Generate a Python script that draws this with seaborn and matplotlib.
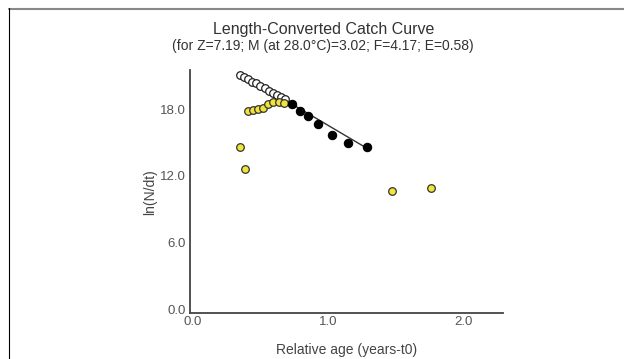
import matplotlib
matplotlib.use("Agg")
import matplotlib.pyplot as plt
import matplotlib.transforms as mtransforms
import seaborn as sns
import pandas as pd

# ochiq doiralar (hisoblangan nuqtalar)
open_x = [0.37, 0.40, 0.43, 0.46, 0.49, 0.52, 0.55, 0.58, 0.61, 0.64, 0.67, 0.70]
open_y = [21.45, 21.25, 21.05, 20.85, 20.7, 20.5, 20.3, 20.05, 19.85, 19.65, 19.45, 19.25]
# sariq nuqtalar (regressiyaga kirmagan)
yellow_x = [0.369, 0.406, 0.428, 0.465, 0.502, 0.539, 0.576, 0.613, 0.657, 0.694, 1.489, 1.776]
yellow_y = [14.94, 12.96, 18.25, 18.3, 18.39, 18.52, 18.84, 19.02, 19.06, 18.93, 11.0, 11.25]
# qora nuqtalar (regressiya uchun)
black_x = [0.753, 0.812, 0.871, 0.945, 1.048, 1.166, 1.306]
black_y = [18.84, 18.2, 17.76, 17.04, 16.05, 15.33, 14.97]
# regressiya chizig'i
line_x = [0.72, 1.29]
line_y = [19.07, 14.97]

sns.set_style("white")
plt.rcParams['font.family'] = ['Liberation Sans', 'DejaVu Sans']

fig = plt.figure(figsize=(6.24, 3.59), dpi=100)
ax = fig.add_axes([0.3045, 0.1273, 0.5015, 0.6777])

sns.lineplot(x=line_x, y=line_y, ax=ax, color="#333333", linewidth=1.0, zorder=2)
sns.scatterplot(x=open_x, y=open_y, ax=ax, marker="o", s=30, facecolor="white",
                edgecolor="#222222", linewidth=0.9, zorder=3)
sns.scatterplot(x=yellow_x, y=yellow_y, ax=ax, marker="o", s=30, color="#f2e43a",
                edgecolor="#333333", linewidth=0.9, zorder=4)
sns.scatterplot(x=black_x, y=black_y, ax=ax, marker="o", s=36, color="black",
                edgecolor="black", linewidth=0.8, zorder=5)

ax.set_xlim(0, 2.31)
ax.set_ylim(0, 21.9)
ax.set_xticks([0.0, 1.0, 2.0])
ax.set_yticks([0.0, 6.0, 12.0, 18.0])
ax.set_xticklabels(["0.0", "1.0", "2.0"])
ax.set_yticklabels(["0.0", "6.0", "12.0", "18.0"])
ax.tick_params(direction="in", length=4, width=1, color="#444444",
               labelsize=9.5, labelcolor="#555555")
ax.tick_params(axis="x", pad=2)
ax.tick_params(axis="y", pad=3)
# tick yozuvlarini biroz siljitish
dx = mtransforms.ScaledTranslation(3/100, 0, fig.dpi_scale_trans)
dy = mtransforms.ScaledTranslation(0, 4/100, fig.dpi_scale_trans)
for lab in ax.get_xticklabels():
    lab.set_transform(lab.get_transform() + dx)
for lab in ax.get_yticklabels():
    lab.set_transform(lab.get_transform() + dy)
for s in ["top", "right"]:
    ax.spines[s].set_visible(False)
for s in ["left", "bottom"]:
    ax.spines[s].set_color("#444444")
    ax.spines[s].set_linewidth(1.3)
ax.set_xlabel("Relative age (years-t0)", fontsize=10, color="#444444", labelpad=11)
ax.set_ylabel("ln(N/dt)", fontsize=10, color="#444444", labelpad=2)

fig.text(0.518, 0.918, "Length-Converted Catch Curve", ha="center", va="center",
         fontsize=11.5, color="#333333")
fig.text(0.518, 0.871, "(for Z=7.19; M (at 28.0\u00b0C)=3.02; F=4.17; E=0.58)",
         ha="center", va="center", fontsize=10, color="#333333")

# ramka chiziqlari
fig.add_artist(plt.Line2D([9/624, 1], [1 - 8.5/359, 1 - 8.5/359], color="#888888",
                          linewidth=1.5, transform=fig.transFigure))
fig.add_artist(plt.Line2D([9/624, 9/624], [0, 1 - 8/359], color="black",
                          linewidth=0.8, transform=fig.transFigure))

fig.savefig("out.png", dpi=100)
